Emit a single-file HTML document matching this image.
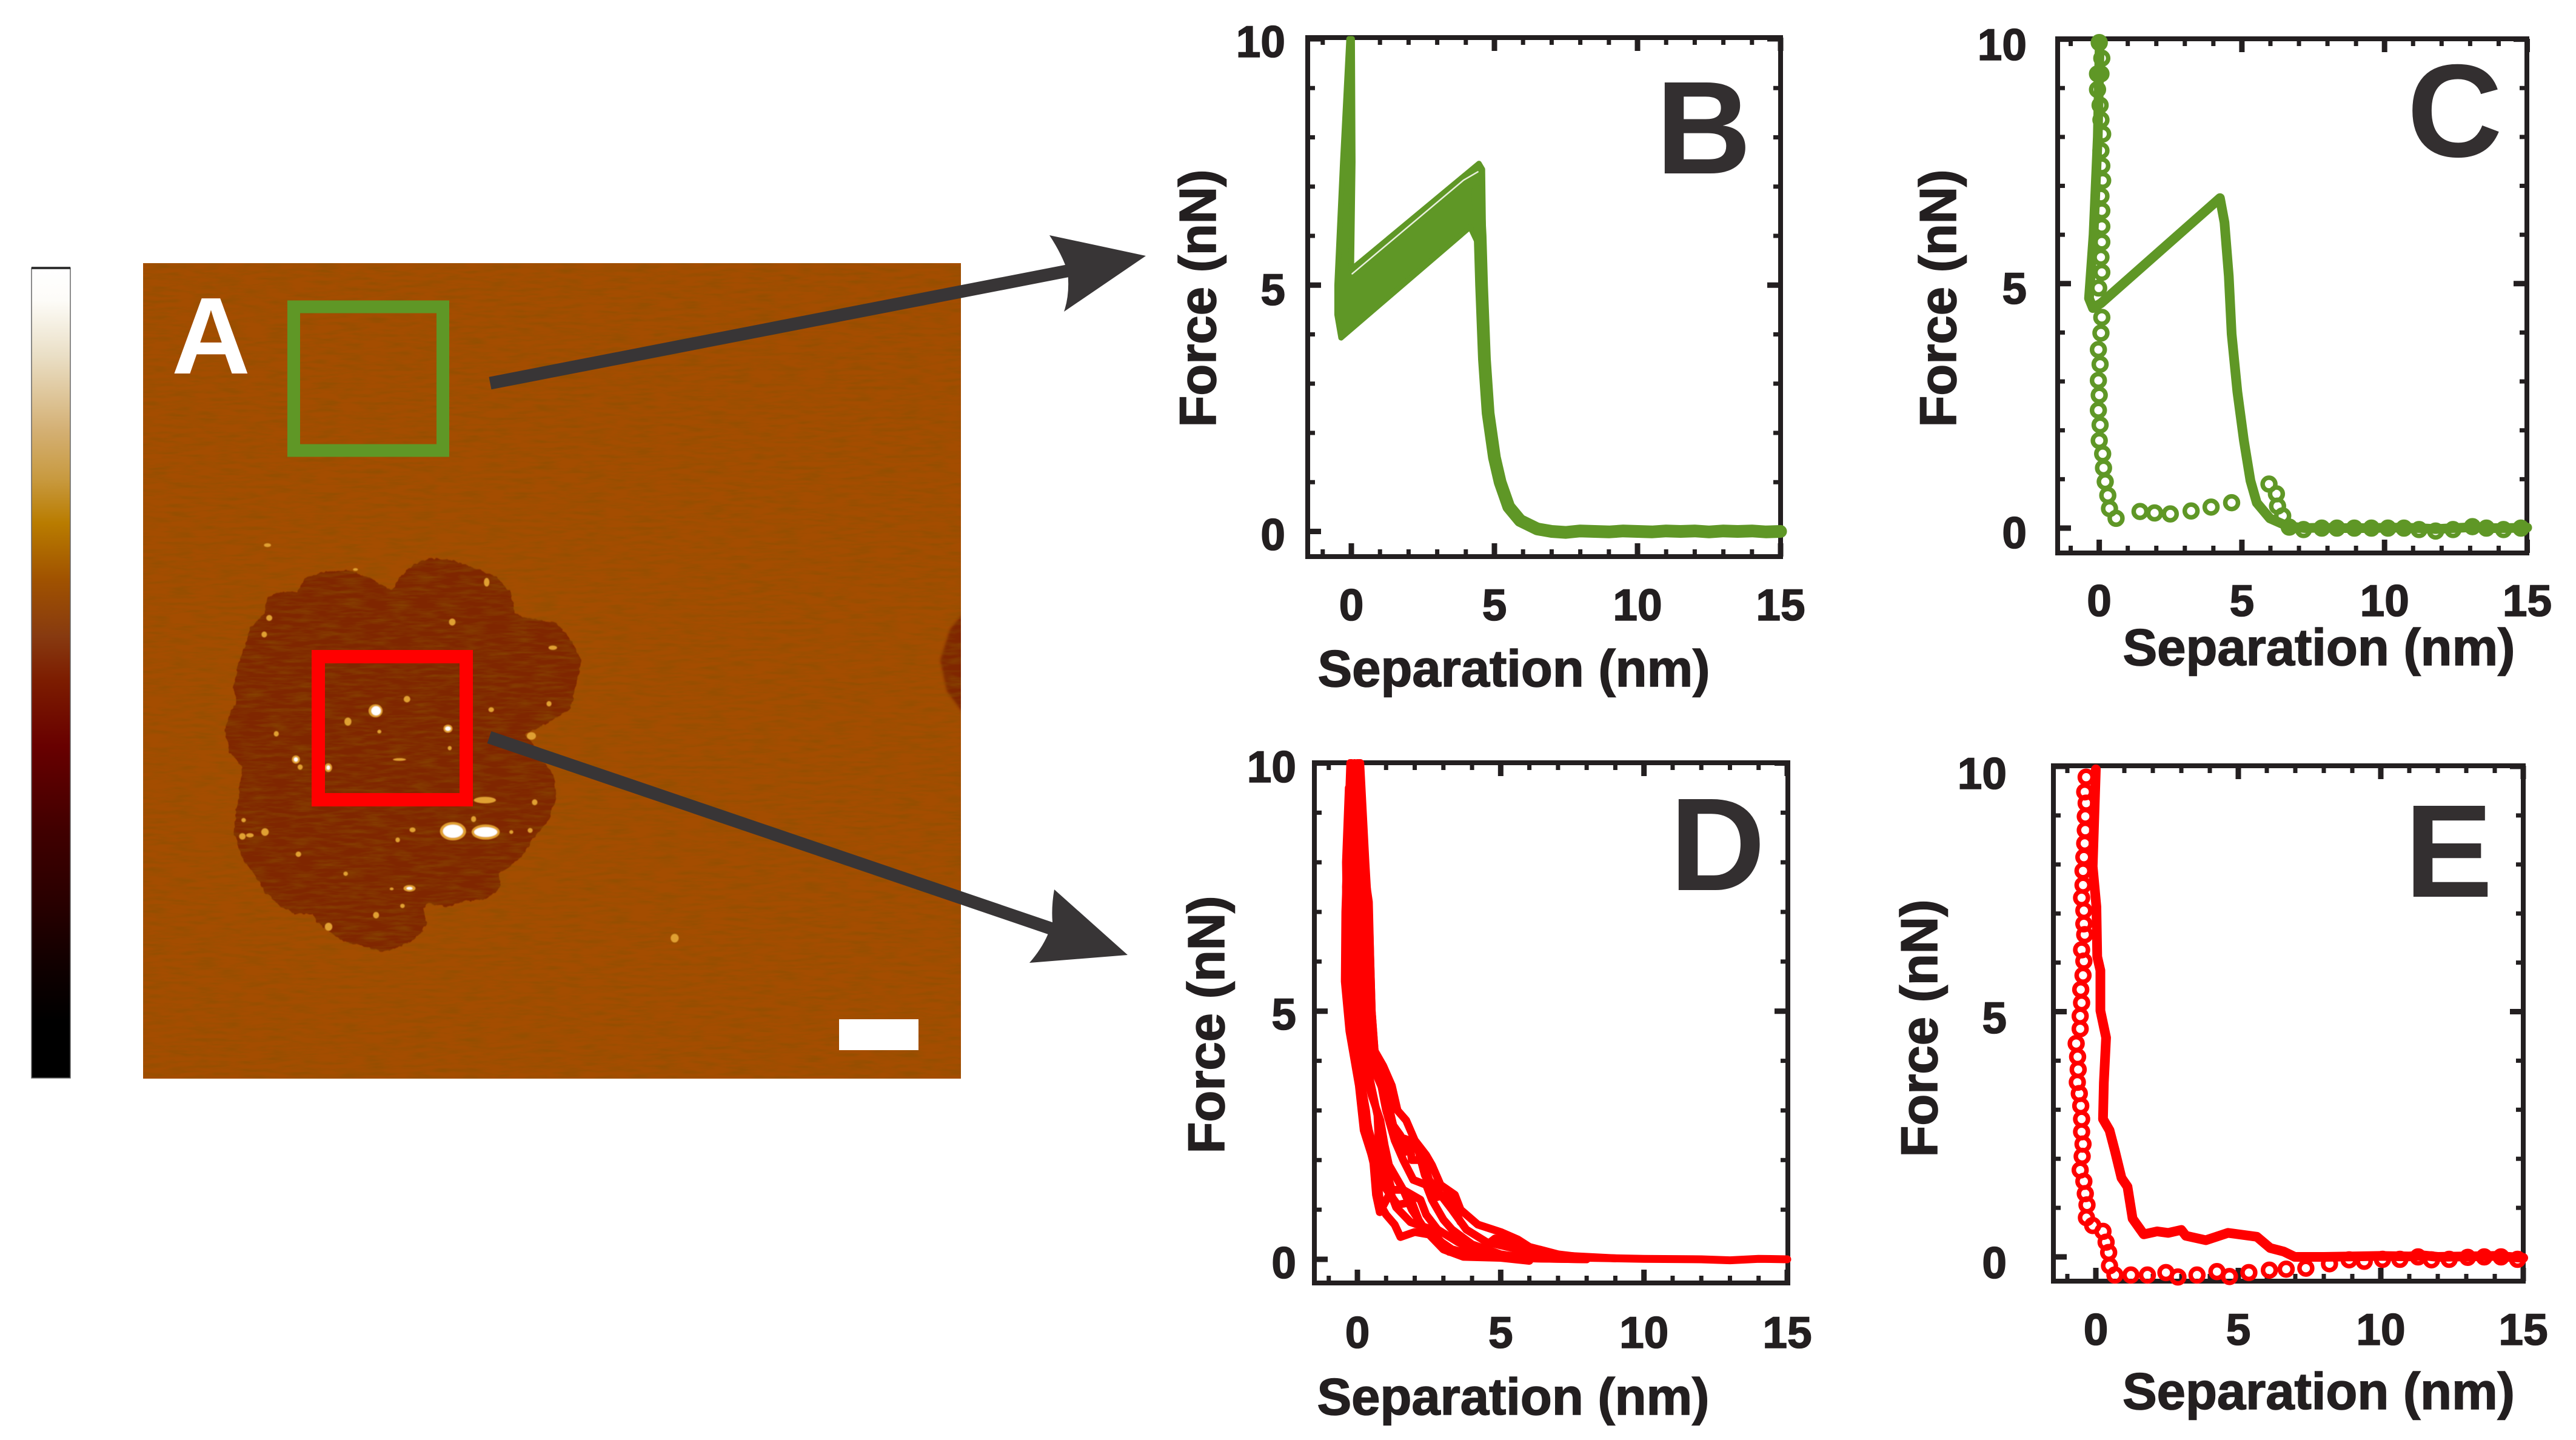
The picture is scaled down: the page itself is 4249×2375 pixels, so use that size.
<!DOCTYPE html>
<html lang="en">
<head>
<meta charset="utf-8">
<title>AFM image and force curves</title>
<style>
html,body{margin:0;padding:0;background:#fff;width:4249px;height:2375px;overflow:hidden}
svg{display:block}
text{font-family:"Liberation Sans",Arial,sans-serif;font-weight:700}
</style>
</head>
<body>
<svg id="figure" xmlns="http://www.w3.org/2000/svg" width="4249" height="2375" viewBox="0 0 4249 2375">
<defs>
<linearGradient id="cbar" x1="0" y1="0" x2="0" y2="1">
<stop offset="0" stop-color="#ffffff"/><stop offset=".04" stop-color="#fdfcf8"/><stop offset=".108" stop-color="#eadfc6"/>
<stop offset=".2" stop-color="#d4b074"/><stop offset=".26" stop-color="#c89a40"/><stop offset=".315" stop-color="#b97c00"/>
<stop offset=".385" stop-color="#a05200"/><stop offset=".455" stop-color="#873a10"/><stop offset=".51" stop-color="#7c1c00"/>
<stop offset=".59" stop-color="#680000"/><stop offset=".696" stop-color="#400000"/><stop offset=".765" stop-color="#2e0000"/>
<stop offset=".87" stop-color="#0e0000"/><stop offset=".93" stop-color="#000000"/><stop offset="1" stop-color="#000000"/>
</linearGradient>
<filter id="scan" x="0" y="0" width="100%" height="100%">
<feTurbulence type="fractalNoise" baseFrequency="0.025 0.16" numOctaves="3" seed="4"/>
<feColorMatrix values="0 0 0 0 .25 0 0 0 0 .08 0 0 0 0 0 1.2 0 0 0 -.45"/>
</filter>
<filter id="rough" x="-5%" y="-5%" width="110%" height="110%">
<feTurbulence type="fractalNoise" baseFrequency="0.05" numOctaves="2" seed="9" result="t"/>
<feDisplacementMap in="SourceGraphic" in2="t" scale="14" xChannelSelector="R" yChannelSelector="G"/>
<feGaussianBlur stdDeviation="1.6"/>
</filter>
<filter id="soft" x="-30%" y="-30%" width="160%" height="160%"><feGaussianBlur stdDeviation="2"/></filter>
<clipPath id="imgclip"><rect x="236" y="434" width="1349" height="1345"/></clipPath>
</defs>

<g>
<rect x="52" y="442" width="64" height="1336" fill="url(#cbar)" stroke="#666" stroke-width="1.5"/>
<rect x="52" y="440" width="64" height="4" fill="#333"/>
</g>

<g clip-path="url(#imgclip)">
<rect x="236" y="434" width="1349" height="1345" fill="#a44d00"/>
<g transform="translate(350,900) scale(.4146,.4464)">
<polygon filter="url(#rough)" fill="#7f2600" points="715,165 750,110 800,70 870,45 960,55 1050,85 1130,115 1190,175 1205,250 1250,270 1370,285 1420,340 1470,420 1450,510 1425,600 1360,640 1280,680 1245,700 1285,745 1310,790 1360,850 1370,930 1340,1010 1270,1090 1230,1150 1170,1195 1140,1210 1145,1265 1090,1305 1000,1315 930,1335 860,1320 840,1340 855,1400 810,1450 750,1480 680,1500 600,1480 520,1460 470,1430 420,1390 400,1360 330,1360 270,1330 210,1280 170,1215 115,1150 100,1100 85,1050 100,960 120,820 70,760 50,680 75,610 95,580 85,520 100,450 130,370 155,300 205,250 220,190 270,170 340,170 370,120 450,95 540,90 620,115 680,150"/>
</g>
<polygon filter="url(#soft)" fill="#7f2600" points="1590,1010 1567,1038 1551,1089 1562,1140 1590,1178"/>
<rect x="236" y="434" width="1349" height="1345" fill="#000" filter="url(#scan)"/>
<g transform="translate(350,900) scale(.4146,.4464)" filter="url(#soft)">
<g fill="#e0a030">
<ellipse cx="958" cy="1055" rx="52" ry="34"/><ellipse cx="1088" cy="1058" rx="56" ry="28"/><ellipse cx="650" cy="610" rx="28" ry="24"/>
<ellipse cx="938" cy="676" rx="18" ry="15"/><ellipse cx="540" cy="650" rx="14" ry="15"/><ellipse cx="775" cy="567" rx="13" ry="12"/>
<ellipse cx="333" cy="790" rx="16" ry="15"/><ellipse cx="462" cy="820" rx="15" ry="16"/><ellipse cx="350" cy="818" rx="10" ry="10"/>
<ellipse cx="785" cy="1266" rx="24" ry="12"/><ellipse cx="210" cy="1058" rx="15" ry="14"/><ellipse cx="120" cy="1074" rx="13" ry="12"/>
<ellipse cx="150" cy="1070" rx="15" ry="8"/><ellipse cx="343" cy="1140" rx="11" ry="10"/><ellipse cx="463" cy="1408" rx="15" ry="15"/>
<ellipse cx="652" cy="1365" rx="12" ry="12"/><ellipse cx="227" cy="267" rx="12" ry="11"/><ellipse cx="207" cy="328" rx="11" ry="11"/>
<ellipse cx="955" cy="282" rx="13" ry="13"/><ellipse cx="1092" cy="135" rx="11" ry="16"/><ellipse cx="1355" cy="377" rx="17" ry="8"/>
<ellipse cx="1270" cy="703" rx="18" ry="14"/><ellipse cx="1340" cy="584" rx="10" ry="10"/><ellipse cx="1110" cy="606" rx="11" ry="9"/>
<ellipse cx="1283" cy="948" rx="11" ry="11"/><ellipse cx="1265" cy="1052" rx="10" ry="9"/><ellipse cx="1040" cy="1010" rx="10" ry="11"/>
<ellipse cx="797" cy="1050" rx="12" ry="9"/><ellipse cx="738" cy="1087" rx="9" ry="9"/><ellipse cx="531" cy="1212" rx="9" ry="8"/>
<ellipse cx="757" cy="1331" rx="9" ry="8"/><ellipse cx="255" cy="695" rx="10" ry="10"/><ellipse cx="745" cy="790" rx="26" ry="5"/>
<ellipse cx="1085" cy="940" rx="44" ry="12"/><ellipse cx="125" cy="1014" rx="9" ry="8"/><ellipse cx="570" cy="88" rx="10" ry="5"/>
<ellipse cx="945" cy="748" rx="8" ry="8"/><ellipse cx="665" cy="687" rx="8" ry="7"/><ellipse cx="1190" cy="1058" rx="8" ry="7"/>
<ellipse cx="714" cy="1268" rx="8" ry="5"/><ellipse cx="220" cy="-2" rx="14" ry="7"/><ellipse cx="1840" cy="1450" rx="16" ry="16"/>
</g>
<g fill="#ffffff">
<ellipse cx="958" cy="1055" rx="40" ry="24"/><ellipse cx="1088" cy="1058" rx="46" ry="18"/><ellipse cx="652" cy="610" rx="19" ry="17"/>
<ellipse cx="938" cy="676" rx="11" ry="8"/><ellipse cx="333" cy="790" rx="8" ry="8"/><ellipse cx="462" cy="820" rx="7" ry="8"/><ellipse cx="785" cy="1266" rx="12" ry="5"/>
</g>
</g>
</g>

<text x="283" y="616" font-size="180" fill="#ffffff">A</text>
<rect x="484.5" y="506" width="246" height="237" fill="none" stroke="#5f9726" stroke-width="21"/>
<rect x="525" y="1083" width="244" height="236" fill="none" stroke="#ff0000" stroke-width="22"/>
<rect x="1384" y="1681" width="131" height="51" fill="#ffffff"/>

<g fill="#383536">
<line x1="808.5" y1="632" x2="1770" y2="445" stroke="#383536" stroke-width="21"/>
<path d="M1890,422 L1731,388 Q1752,420 1761,448 Q1765,485 1755,514 Z"/>
</g>
<g fill="#383536">
<line x1="807" y1="1216" x2="1750" y2="1537" stroke="#383536" stroke-width="21"/>
<path d="M1860,1575 L1739,1467 Q1734,1495 1736,1521 L1728,1542 Q1718,1565 1698,1588 Z"/>
</g>

<g id="charts"></g>
</svg>

<script>
// Shared axis values
const xTickLabels = [0, 5, 10, 15];
const yTickLabels = [0, 5, 10];
const xMinorTicks = [-1, 1, 2, 3, 4, 6, 7, 8, 9, 11, 12, 13, 14];
const yMinorTicks = [1, 2, 3, 4, 6, 7, 8, 9];

// Panel B: many overlaid curves (envelope of the sawtooth, then the shared descent)
const bEnvelopeSep = [-0.06, 0.03, 0.05, 0.0, 4.46, 4.58, 4.62, 4.15, -0.36, -0.5, -0.5, -0.3, -0.08];
const bEnvelopeForce = [10.0, 10.0, 7.5, 5.32, 7.47, 7.35, 5.6, 6.18, 3.93, 4.4, 5.0, 7.5, 10.0];
const bGapSep = [0.03, 3.92, 4.42];
const bGapForce = [5.23, 7.13, 7.3];
const bDescentSep = [4.42, 4.5, 4.55, 4.65, 4.78, 5.0, 5.2, 5.5, 5.9, 6.5, 7.0, 7.5, 8.0, 8.5, 9.0, 9.5, 10.0, 10.5, 11.0, 11.5, 12.0, 12.5, 13.0, 13.5, 14.0, 14.5, 15.0];
const bDescentForce = [6.9, 6.0, 5.0, 3.5, 2.4, 1.5, 1.0, 0.5, 0.22, 0.05, 0.0, -0.02, 0.01, 0.0, -0.01, 0.01, 0.0, -0.01, 0.01, 0.0, 0.01, -0.01, 0.01, 0.0, 0.01, -0.01, 0.0];

// Panel C: single curve, solid approach plus open-circle retract
const cLineSep = [0.02, -0.05, -0.2, -0.36, -0.22, 0.06, 4.23, 4.39, 4.54, 4.64, 4.84, 5.07, 5.3, 5.52, 5.98, 6.6, 7.2, 7.8, 8.3, 8.9, 9.5, 10.1, 10.7, 11.2, 11.8, 12.4, 13.1, 13.6, 14.2, 15.0];
const cLineForce = [10.0, 8.0, 6.0, 4.7, 4.5, 4.6, 6.75, 6.25, 5.15, 3.97, 2.79, 1.79, 0.97, 0.52, 0.2, 0.04, 0.0, 0.01, 0.0, 0.0, 0.0, 0.01, 0.01, 0.0, -0.02, 0.0, 0.02, 0.0, 0.0, 0.01];
const cCircleSep = [0, 0.09, -0.06, 0.06, -0.06, 0.03, 0.06, 0.12, 0.06, 0.09, 0.12, 0.06, 0.09, 0.09, 0.09, 0.06, 0.09, -0.02, 0.09, 0.06, -0.03, 0.03, -0.03, 0, -0.03, 0.03, 0, 0.12, 0.15, 0.21, 0.3, 0.36, 0.59, 1.43, 1.94, 2.49, 3.22, 3.92, 4.64, 5.95, 6.21, 6.25, 6.43, 6.66, 7.16, 7.8, 8.33, 8.94, 9.54, 10.12, 10.68, 11.21, 11.79, 12.4, 13.08, 13.57, 14.17, 14.78];
const cCircleForce = [9.93, 9.61, 9.29, 9.29, 8.97, 8.65, 8.35, 8.06, 7.72, 7.41, 7.11, 6.79, 6.49, 6.17, 5.85, 5.54, 5.23, 4.91, 4.31, 3.99, 3.65, 3.35, 3.02, 2.72, 2.41, 2.11, 1.79, 1.52, 1.23, 0.95, 0.67, 0.4, 0.2, 0.34, 0.31, 0.29, 0.35, 0.43, 0.52, 0.9, 0.7, 0.45, 0.25, 0.02, -0.03, 0.0, 0.0, 0.0, 0.0, 0.0, 0.0, -0.03, -0.06, -0.03, 0.03, 0.0, -0.03, 0.0];

// Panel D: overlaid curves
const dCurve1Sep = [0.05, 0.15, 0.2, 0.4, 0.45, 0.5, 0.6, 0.9, 1.2, 1.4, 1.7, 2.0, 2.4, 2.6, 2.9, 3.4, 3.6, 4.2, 5.0, 5.6, 6.0, 7.0, 8.0, 10.0, 12.0, 13.0, 14.0, 15.0];
const dCurve1Force = [10, 9, 8, 7.2, 6, 5, 4.2, 3.9, 3.5, 3.0, 2.8, 2.4, 2.1, 1.9, 1.5, 1.3, 1.0, 0.7, 0.55, 0.4, 0.25, 0.1, 0.03, 0.01, 0, -0.02, 0.01, 0];
const dCurve2Sep = [-0.1, 0, 0.1, 0.2, 0.4, 0.6, 0.9, 1.1, 1.3, 1.8, 1.9, 2.3, 2.5, 2.9, 3.3, 3.8, 4.5, 5.6, 7.0, 9.0];
const dCurve2Force = [10, 8.5, 7, 5.5, 4.4, 3.8, 3.4, 2.9, 2.5, 2.4, 2.0, 2.0, 1.6, 1.3, 1.0, 0.6, 0.35, 0.2, 0.08, 0.02];
const dCurve3Sep = [-0.2, -0.2, -0.1, 0.1, 0.2, 0.5, 0.8, 0.95, 1.1, 1.6, 1.9, 2.3, 2.8, 3.3, 4.0, 6.0, 8.0];
const dCurve3Force = [10, 8, 6.5, 5, 4, 3.3, 2.8, 2.3, 1.9, 1.4, 1.0, 0.65, 0.4, 0.2, 0.1, 0.02, 0];
const dCurve4Sep = [-0.3, -0.4, -0.35, -0.2, 0, 0.3, 0.45, 0.7, 0.8, 1.0, 1.3, 1.5, 2.0, 2.5, 3.0, 3.7, 5.0, 6.0];
const dCurve4Force = [9.5, 8, 6, 5, 4, 3, 2.2, 1.6, 1.1, 0.9, 0.7, 0.45, 0.55, 0.5, 0.2, 0.05, 0.03, -0.03];
const dCurve5Sep = [0, 0.1, 0.25, 0.3, 0.5, 0.8, 1.0, 1.3, 1.6, 1.95, 2.4, 2.6, 3.0, 3.3, 4.0, 5.0, 6.0, 8.0];
const dCurve5Force = [10, 8, 6.5, 5, 4, 3.6, 3, 2.4, 2, 1.6, 1.5, 1.2, 0.8, 0.6, 0.3, 0.1, 0.02, 0];
const dCurve6Sep = [-0.1, -0.15, -0.05, 0.3, 0.7, 0.75, 1.0, 1.2, 1.6, 2.2, 2.4, 2.8, 3.5, 4.2, 4.8, 5.5, 6.0, 7.0];
const dCurve6Force = [9, 7, 5.5, 4, 2.9, 2.3, 1.8, 1.4, 1.4, 1.2, 0.9, 0.6, 0.35, 0.15, 0.42, 0.32, 0.1, 0.03];
const dCurve7Sep = [-0.25, -0.4, -0.3, -0.1, 0.2, 0.4, 0.75, 0.9, 1.4, 1.9, 2.2, 2.7, 3.2, 4.0, 5.0];
const dCurve7Force = [10, 7.5, 5.5, 4.5, 3.2, 2.6, 1.9, 1.5, 1.1, 1.15, 0.7, 0.45, 0.15, 0.1, 0.05];
const dCurve8Sep = [0.1, 0.28, 0.42, 0.5, 0.62, 0.85, 1.05, 1.25, 1.5, 1.6, 2.1, 2.35, 2.75, 3.1, 3.6];
const dCurve8Force = [10, 8, 6.6, 5, 4.05, 3.7, 3.2, 2.7, 2.5, 2.15, 2.25, 1.7, 1.25, 1.3, 0.75];
const dCurve9Sep = [-0.3, -0.42, -0.44, -0.28, 0.05, 0.22, 0.55, 0.65, 0.78, 1.15, 1.35, 1.85, 2.5, 3.0];
const dCurve9Force = [9, 7, 5.6, 4.6, 3.5, 2.6, 2.0, 1.3, 0.95, 1.35, 1.05, 0.75, 0.62, 0.3];

// Panel E: single curve, solid approach plus open-circle retract
const eLineSep = [0, -0.11, 0.02, 0.05, 0.16, 0.16, 0.36, 0.28, 0.25, 0.48, 0.67, 0.9, 1.11, 1.29, 1.68, 2.15, 2.54, 3.0, 3.16, 3.86, 4.64, 5.65, 6.12, 6.59, 6.98, 8.0, 9.0, 10.0, 11.0, 11.5, 12.0, 13.0, 14.0, 15.0];
const eLineForce = [9.94, 7.96, 7.14, 6.12, 5.84, 5.02, 4.47, 3.55, 2.81, 2.58, 2.16, 1.61, 1.43, 0.78, 0.46, 0.52, 0.49, 0.55, 0.43, 0.34, 0.49, 0.41, 0.18, 0.11, 0.0, 0.0, 0.01, 0.02, 0.01, 0.03, 0.0, 0.01, 0.02, -0.02];
const eCircleSep = [-0.34, -0.39, -0.34, -0.37, -0.37, -0.39, -0.42, -0.45, -0.45, -0.5, -0.42, -0.42, -0.39, -0.5, -0.42, -0.45, -0.53, -0.5, -0.55, -0.55, -0.69, -0.64, -0.62, -0.65, -0.58, -0.53, -0.5, -0.5, -0.45, -0.48, -0.55, -0.42, -0.37, -0.31, -0.33, -0.11, 0.25, 0.36, 0.45, 0.48, 0.67, 1.23, 1.81, 2.46, 2.88, 3.55, 4.25, 4.69, 5.37, 6.09, 6.68, 7.37, 8.2, 8.89, 9.42, 10.06, 10.67, 11.31, 11.78, 12.4, 13.05, 13.63, 14.22, 14.8];
const eCircleForce = [9.78, 9.48, 9.25, 8.98, 8.7, 8.43, 8.15, 7.87, 7.58, 7.32, 7.06, 6.79, 6.57, 6.26, 6.03, 5.74, 5.45, 5.18, 4.91, 4.65, 4.35, 4.08, 3.82, 3.56, 3.33, 3.08, 2.81, 2.55, 2.3, 2.05, 1.77, 1.54, 1.29, 1.06, 0.8, 0.64, 0.52, 0.3, 0.09, -0.18, -0.37, -0.37, -0.37, -0.32, -0.41, -0.37, -0.3, -0.4, -0.32, -0.27, -0.25, -0.23, -0.14, -0.06, -0.09, -0.05, -0.05, 0, -0.06, -0.05, -0.01, 0, 0, -0.05];

const GREEN = '#5f9726';
const RED = '#ff0000';
const INK = '#231f20';
const NS = 'http://www.w3.org/2000/svg';
const root = document.getElementById('charts');

function make(parent, tag, attrs, text) {
  const el = document.createElementNS(NS, tag);
  for (const k in attrs) el.setAttribute(k, attrs[k]);
  if (text !== undefined) el.textContent = text;
  parent.appendChild(el);
  return el;
}

function axisX(layout) {
  return function (v) { return layout.x0 + v * (layout.x15 - layout.x0) / 15; };
}
function axisY(layout) {
  return function (v) { return layout.y0 - v * (layout.y0 - layout.y10) / 10; };
}

function drawAxes(layout, name, letter) {
  const g = make(root, 'g', {});
  
  
  const sx = axisX(layout);
  const sy = axisY(layout);

  const frame = make(g, 'rect', { x: layout.left, y: layout.top, width: layout.right - layout.left, height: layout.bottom - layout.top, fill: 'none', stroke: INK, 'stroke-width': 8 });
  
  

  const ticks = make(g, 'g', { stroke: INK });
  
  
  xTickLabels.forEach(function (v) {
    make(ticks, 'line', { x1: sx(v), x2: sx(v), y1: layout.bottom, y2: layout.bottom - 22, 'stroke-width': 9 });
    make(ticks, 'line', { x1: sx(v), x2: sx(v), y1: layout.top, y2: layout.top + 22, 'stroke-width': 9 });
  });
  xMinorTicks.forEach(function (v) {
    make(ticks, 'line', { x1: sx(v), x2: sx(v), y1: layout.bottom, y2: layout.bottom - 12, 'stroke-width': 7 });
    make(ticks, 'line', { x1: sx(v), x2: sx(v), y1: layout.top, y2: layout.top + 12, 'stroke-width': 7 });
  });
  yTickLabels.forEach(function (v) {
    make(ticks, 'line', { y1: sy(v), y2: sy(v), x1: layout.left, x2: layout.left + 22, 'stroke-width': 9 });
    make(ticks, 'line', { y1: sy(v), y2: sy(v), x1: layout.right, x2: layout.right - 22, 'stroke-width': 9 });
  });
  yMinorTicks.forEach(function (v) {
    make(ticks, 'line', { y1: sy(v), y2: sy(v), x1: layout.left, x2: layout.left + 12, 'stroke-width': 7 });
    make(ticks, 'line', { y1: sy(v), y2: sy(v), x1: layout.right, x2: layout.right - 12, 'stroke-width': 7 });
  });

  xTickLabels.forEach(function (v) {
    const t = make(g, 'text', { x: sx(v), y: layout.xLabelY, 'font-size': 73, 'text-anchor': 'middle', fill: INK, stroke: INK, 'stroke-width': 1.6 }, String(v));
    
    
  });
  yTickLabels.forEach(function (v, i) {
    const t = make(g, 'text', { x: layout.yLabelX, y: layout.yLabelY[i], 'font-size': 73, 'text-anchor': 'end', fill: INK, stroke: INK, 'stroke-width': 1.6 }, String(v));
    
    
  });

  const xt = make(g, 'text', { x: layout.xTitleX, y: layout.xTitleY, 'font-size': 85, 'text-anchor': 'middle', fill: INK, stroke: INK, 'stroke-width': 1.6 }, 'Separation (nm)');
  
  

  const yt = make(g, 'text', { x: 0, y: 0, 'font-size': 85, 'text-anchor': 'middle', fill: INK, stroke: INK, 'stroke-width': 1.6, transform: 'translate(' + layout.yTitleX + ',' + layout.yTitleY + ') rotate(-90)' }, 'Force (nN)');
  
  

  const lab = make(g, 'text', { x: layout.letterX, y: layout.letterY, 'font-size': 218, 'text-anchor': 'middle', fill: '#332f30' }, letter);
  
  

  return { g: g, sx: sx, sy: sy };
}

function pathPoints(p, xs, ys) {
  return xs.map(function (v, i) { return p.sx(v).toFixed(1) + ',' + p.sy(ys[i]).toFixed(1); }).join(' ');
}

function drawLine(p, xs, ys, color, width, name) {
  const el = make(p.g, 'polyline', { points: pathPoints(p, xs, ys), fill: 'none', stroke: color, 'stroke-width': width, 'stroke-linejoin': 'round', 'stroke-linecap': 'round' });
  
  
  return el;
}

function drawCircles(p, xs, ys, color, name) {
  const grp = make(p.g, 'g', { fill: 'none', stroke: color, 'stroke-width': 7.5 });
  
  
  xs.forEach(function (v, i) {
    make(grp, 'circle', { cx: p.sx(v), cy: p.sy(ys[i]), r: 10.5 });
  });
}

const layoutB = { left: 2157, right: 2937, top: 62, bottom: 918, x0: 2229, x15: 2937, y0: 876.5, y10: 64, xLabelY: 1023, yLabelX: 2120, yLabelY: [907, 503, 94], xTitleX: 2497, xTitleY: 1132, yTitleX: 2005, yTitleY: 492, letterX: 2810, letterY: 286 };
const layoutC = { left: 3394, right: 4168, top: 64, bottom: 912, x0: 3462.6, x15: 4168.5, y0: 871, y10: 64.6, xLabelY: 1016, yLabelX: 3343, yLabelY: [904, 501, 99], xTitleX: 3825, xTitleY: 1097, yTitleX: 3226, yTitleY: 492, letterX: 4049, letterY: 258 };
const layoutD = { left: 2168, right: 2949, top: 1258, bottom: 2116, x0: 2239, x15: 2948, y0: 2077, y10: 1258.5, xLabelY: 2223, yLabelX: 2138, yLabelY: [2108, 1698, 1290], xTitleX: 2496, xTitleY: 2333, yTitleX: 2019, yTitleY: 1690, letterX: 2833, letterY: 1468 };
const layoutE = { left: 3387, right: 4162, top: 1263, bottom: 2113, x0: 3457, x15: 4162, y0: 2073, y10: 1264, xLabelY: 2218, yLabelX: 3310, yLabelY: [2108, 1704, 1301], xTitleX: 3824.5, xTitleY: 2324, yTitleX: 3195, yTitleY: 1696, letterX: 4039, letterY: 1479 };

// Panel B
const panelB = drawAxes(layoutB, 'b', 'B');
const band = make(panelB.g, 'polygon', { points: pathPoints(panelB, bEnvelopeSep, bEnvelopeForce), fill: GREEN, stroke: GREEN, 'stroke-width': 9, 'stroke-linejoin': 'round' });


drawLine(panelB, bDescentSep, bDescentForce, GREEN, 21, 'approach-descent-curve');
drawLine(panelB, bGapSep, bGapForce, '#e8f0dc', 2.5, 'gap-between-curves');

// Panel C
const panelC = drawAxes(layoutC, 'c', 'C');
drawCircles(panelC, cCircleSep, cCircleForce, GREEN, 'retract-curve-circles');
drawLine(panelC, cLineSep, cLineForce, GREEN, 16, 'approach-curve-line');

// Panel D
const panelD = drawAxes(layoutD, 'd', 'D');
drawLine(panelD, dCurve1Sep, dCurve1Force, RED, 13, 'force-curve-1');
drawLine(panelD, dCurve2Sep, dCurve2Force, RED, 13, 'force-curve-2');
drawLine(panelD, dCurve3Sep, dCurve3Force, RED, 13, 'force-curve-3');
drawLine(panelD, dCurve4Sep, dCurve4Force, RED, 13, 'force-curve-4');
drawLine(panelD, dCurve5Sep, dCurve5Force, RED, 13, 'force-curve-5');
drawLine(panelD, dCurve6Sep, dCurve6Force, RED, 13, 'force-curve-6');
drawLine(panelD, dCurve7Sep, dCurve7Force, RED, 13, 'force-curve-7');
drawLine(panelD, dCurve8Sep, dCurve8Force, RED, 13, 'force-curve-8');
drawLine(panelD, dCurve9Sep, dCurve9Force, RED, 13, 'force-curve-9');

// Panel E
const panelE = drawAxes(layoutE, 'e', 'E');
drawCircles(panelE, eCircleSep, eCircleForce, RED, 'retract-curve-circles');
drawLine(panelE, eLineSep, eLineForce, RED, 16, 'approach-curve-line');
</script>
</body>
</html>
